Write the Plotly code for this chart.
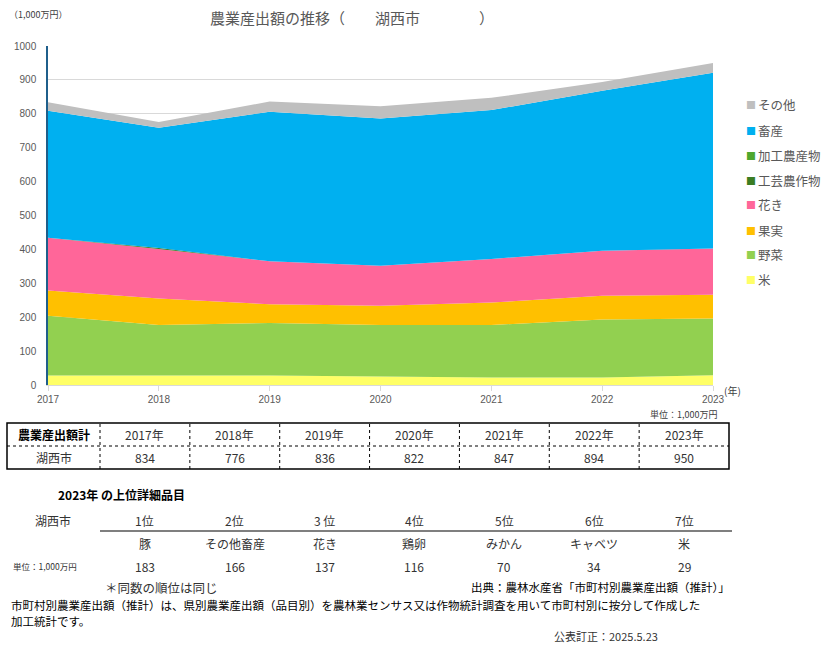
import plotly.graph_objects as go

# ---------------- data ----------------
years = [2017, 2018, 2019, 2020, 2021, 2022, 2023]
kome = [28, 28, 28, 25, 22, 22, 29]          # 米
yasai = [176, 149, 155, 152, 155, 171, 167]  # 野菜
kajitsu = [75, 78, 55, 57, 66, 70, 70]       # 果実
kaki = [155, 146, 127, 118, 129, 133, 137]   # 花き
kogei = [0, 3, 0, 0, 0, 0, 0]                # 工芸農作物
kako = [0, 0, 0, 0, 0, 0, 0]                 # 加工農産物
chikusan = [375, 355, 441, 434, 439, 472, 518]  # 畜産
sonota = [25, 17, 30, 36, 36, 26, 29]        # その他

series_names = ["米", "野菜", "果実", "花き", "工芸農作物", "加工農産物", "畜産", "その他"]
series_vals = [kome, yasai, kajitsu, kaki, kogei, kako, chikusan, sonota]
series_colors = ["#FFFF66", "#92D050", "#FFC000", "#FF6699", "#3B7D23", "#4EA72E", "#00B0F0", "#BFBFBF"]

totals = [834, 776, 836, 822, 847, 894, 950]
city = "湖西市"

rank_labels = ["1位", "2位", "3 位", "4位", "5位", "6位", "7位"]
rank_items = ["豚", "その他畜産", "花き", "鶏卵", "みかん", "キャベツ", "米"]
rank_values = [183, 166, 137, 116, 70, 34, 29]

JP = "Noto Sans CJK JP"
GRAY = "#595959"

# plot area in pixels
L, R, T, B = 48, 713, 46, 385
W, H = 834, 648


def px(x):
    return (x - L) / (R - L)


def py(y):
    return (B - y) / (B - T)


fig = go.Figure()
for name, vals, col in zip(series_names, series_vals, series_colors):
    fig.add_trace(go.Scatter(
        x=years, y=vals, name=name, stackgroup="one", mode="none",
        fillcolor=col, showlegend=False, hoverinfo="x+y+name"))

fig.update_layout(
    width=W, height=H,
    margin=dict(l=L, r=W - R, t=T, b=H - B),
    plot_bgcolor="white", paper_bgcolor="white",
    font=dict(family=JP, color=GRAY),
    xaxis=dict(range=[2017, 2023], tickvals=years, ticktext=[str(y) for y in years],
               showgrid=False, showline=True, linecolor="#D9D9D9", linewidth=1,
               ticks="outside", ticklen=5, tickcolor="#D9D9D9",
               tickfont=dict(family="Liberation Sans Narrow, Liberation Sans", size=10, color=GRAY),
               zeroline=False, fixedrange=True),
    yaxis=dict(range=[0, 1000], dtick=100, showgrid=True, gridcolor="#D9D9D9", gridwidth=1,
               showline=True, linecolor="#1F5F8B", linewidth=1.5,
               tickfont=dict(family="Liberation Sans Narrow, Liberation Sans", size=10, color=GRAY),
               ticklabelstandoff=8, zeroline=False, fixedrange=True),
    showlegend=False,
)

ann = []
shapes = []


def text(x, y, s, size=12, color=GRAY, xanchor="left", bold=False, family=JP, yanchor="middle"):
    ann.append(dict(x=px(x), y=py(y), xref="paper", yref="paper", text=("<b>%s</b>" % s) if bold else s,
                    showarrow=False, xanchor=xanchor, yanchor=yanchor, align="left", borderpad=0,
                    font=dict(family=family, size=size, color=color)))


# title and axis units
text(209, 18, "農業産出額の推移（", size=15)
text(374, 18, city, size=15)
text(478, 18, "）", size=15)
text(8, 15, "（1,000万円）", size=9, color="#404040")
text(723, 390, "(年)", size=10, color="#404040")
text(718, 414, "単位：1,000万円", size=9, color="#404040", xanchor="right")

# legend (top to bottom)
leg_y = [104, 130, 155, 180, 205, 230, 254, 279]
for i, (name, col) in enumerate(zip(series_names[::-1], series_colors[::-1])):
    text(745, leg_y[i], "■", size=10, color=col)
    text(757, leg_y[i], name, size=12.5)

# ---------- table 1 ----------
tx0, tx1 = 7, 729
ty0, tym, ty1 = 423, 446, 469
col_edges = [tx0, 100] + [100 + (tx1 - 100) * (k + 1) / 7 for k in range(7)]
shapes.append(dict(type="rect", xref="paper", yref="paper", x0=px(tx0), x1=px(tx1), y0=py(ty1), y1=py(ty0),
                   line=dict(color="black", width=1.5)))
shapes.append(dict(type="line", xref="paper", yref="paper", x0=px(tx0), x1=px(tx1), y0=py(tym), y1=py(tym),
                   line=dict(color="black", width=1, dash="dot")))
for e in col_edges[1:-1]:
    shapes.append(dict(type="line", xref="paper", yref="paper", x0=px(e), x1=px(e), y0=py(ty1), y1=py(ty0),
                       line=dict(color="black", width=1, dash="dot")))
text((col_edges[0] + col_edges[1]) / 2, 434.5, "農業産出額計", size=12, color="black", xanchor="center", bold=True)
text((col_edges[0] + col_edges[1]) / 2, 457.5, city, size=12, color="#333333", xanchor="center")
for k, yv in enumerate(years):
    cx = (col_edges[k + 1] + col_edges[k + 2]) / 2
    text(cx, 434.5, "%d年" % yv, size=12, color="#333333", xanchor="center")
    text(cx, 457.5, str(totals[k]), size=12, color="#333333", xanchor="center")

# ---------- table 2 ----------
text(57, 494, "2023年 の上位詳細品目", size=12, color="black", bold=True)
text(53, 520, city, size=12, color="#333333", xanchor="center")
shapes.append(dict(type="line", xref="paper", yref="paper", x0=px(100), x1=px(732), y0=py(531), y1=py(531),
                   line=dict(color="black", width=1.2)))
for k in range(7):
    cx = (col_edges[k + 1] + col_edges[k + 2]) / 2
    text(cx, 520, rank_labels[k], size=12, color="#333333", xanchor="center")
    text(cx, 543, rank_items[k], size=12, color="#333333", xanchor="center")
    text(cx, 566, str(rank_values[k]), size=12, color="#333333", xanchor="center")
text(12, 566, "単位：1,000万円", size=8.5, color="#333333")

# ---------- notes ----------
text(104, 587, "＊同数の順位は同じ", size=12.5, color="#333333")
text(731, 587, "出典：農林水産省「市町村別農業産出額（推計）」", size=11.5, color="black", xanchor="right")
text(10, 605, "市町村別農業産出額（推計）は、県別農業産出額（品目別）を農林業センサス又は作物統計調査を用いて市町村別に按分して作成した",
     size=11.5, color="black")
text(10, 621, "加工統計です。", size=11.5, color="black")
text(553, 636, "公表訂正：2025.5.23", size=11, color="#333333")

fig.update_layout(annotations=ann, shapes=shapes)
fig.write_html("out.html")
